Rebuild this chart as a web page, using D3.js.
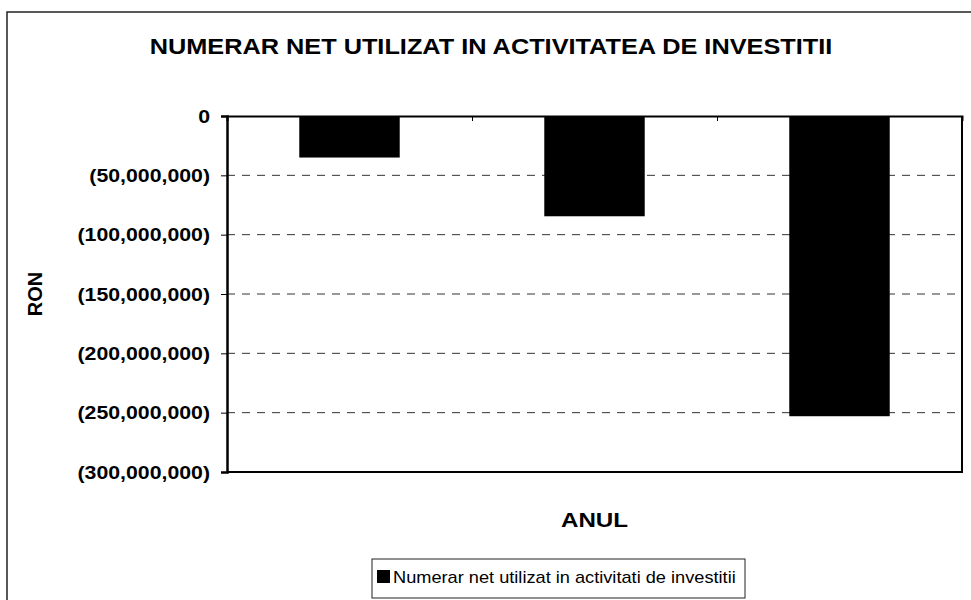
<!DOCTYPE html>
<html>
<head>
<meta charset="utf-8">
<script src="https://cdn.jsdelivr.net/npm/d3@7"></script>
<style>
  body { margin: 0; background: #fff; }
  text { font-family: "Liberation Sans", Arial, sans-serif; }
</style>
</head>
<body>
<svg width="971" height="600"></svg>
<script>
var svg = d3.select("svg");

// Data
var years = ["An 1", "An 2", "An 3"];
var values = [-35000000, -84500000, -253000000];
var yTicks = [0, -50000000, -100000000, -150000000, -200000000, -250000000, -300000000];
var seriesName = "Numerar net utilizat in activitati de investitii";

var plotLeft = 227, plotRight = 962, plotTop = 116, plotBottom = 472;

var x = d3.scaleBand().domain(years).range([plotLeft, plotRight]).paddingInner(0.59).paddingOuter(0.295);
var y = d3.scaleLinear().domain([0, -300000000]).range([plotTop, plotBottom]);

// the scanned chart text is wider than Arial, so stretch it a bit
function stretch(sel, k) {
    sel.each(function() {
        var w = this.getComputedTextLength();
        d3.select(this).attr("textLength", w * k).attr("lengthAdjust", "spacingAndGlyphs");
    });
}

// outer frame (only top and left visible)
svg.append("path")
    .attr("d", "M7,600 V12 H971")
    .attr("fill", "none")
    .attr("stroke", "#222")
    .attr("stroke-width", 1.5);

// title
svg.append("text")
    .attr("x", 491).attr("y", 54)
    .attr("text-anchor", "middle")
    .attr("font-size", 22).attr("font-weight", "bold")
    .text("NUMERAR NET UTILIZAT IN ACTIVITATEA DE INVESTITII")
    .call(stretch, 1.15);

// gridlines
svg.append("g").selectAll("line")
    .data(yTicks.filter(function(d) { return d != 0 && d != -300000000; }))
    .enter().append("line")
    .attr("x1", plotLeft).attr("x2", plotRight)
    .attr("y1", function(d) { return y(d); })
    .attr("y2", function(d) { return y(d); })
    .attr("stroke", "#333")
    .attr("stroke-dasharray", "8,7");

// bars
svg.append("g").selectAll("rect")
    .data(values).enter().append("rect")
    .attr("x", function(d, i) { return x(years[i]); })
    .attr("y", y(0))
    .attr("width", x.bandwidth())
    .attr("height", function(d) { return y(d) - y(0); })
    .attr("fill", "#000");

// plot border (right + bottom)
svg.append("path")
    .attr("d", "M" + plotLeft + "," + plotBottom + " H" + plotRight + " V" + plotTop)
    .attr("fill", "none")
    .attr("stroke", "#000")
    .attr("stroke-width", 2);

// x axis at zero, no labels
var xAxis = svg.append("g")
    .attr("transform", "translate(0," + y(0) + ")")
    .call(d3.axisBottom(d3.scaleLinear().domain([0, 3]).range([plotLeft, plotRight]))
        .tickValues([1, 2]).tickSize(5).tickFormat(""));
xAxis.select(".domain").attr("stroke-width", 2);

// y axis
var yAxis = svg.append("g")
    .attr("transform", "translate(" + plotLeft + ",0)")
    .call(d3.axisLeft(y).tickValues(yTicks).tickSize(6).tickPadding(11)
        .tickFormat(function(d) { return d == 0 ? "0" : "(" + d3.format(",")(-d) + ")"; }));
yAxis.select(".domain").attr("stroke-width", 2.5);
yAxis.selectAll("text")
    .attr("font-size", 19).attr("font-weight", "bold")
    .attr("font-family", "'Liberation Sans', Arial, sans-serif")
    .attr("fill", "#000")
    .call(stretch, 1.12);

// axis titles
svg.append("text")
    .attr("transform", "translate(42," + (plotTop + plotBottom) / 2 + ") rotate(-90)")
    .attr("text-anchor", "middle")
    .attr("font-size", 20).attr("font-weight", "bold")
    .text("RON");

svg.append("text")
    .attr("x", (plotLeft + plotRight) / 2).attr("y", 527)
    .attr("text-anchor", "middle")
    .attr("font-size", 21).attr("font-weight", "bold")
    .text("ANUL")
    .call(stretch, 1.15);

// legend
var legend = svg.append("g").attr("transform", "translate(372,559)");
legend.append("rect")
    .attr("width", 373).attr("height", 39)
    .attr("fill", "#fff").attr("stroke", "#222").attr("stroke-width", 1);
legend.append("rect")
    .attr("x", 5).attr("y", 11).attr("width", 13).attr("height", 13)
    .attr("fill", "#000");
legend.append("text")
    .attr("x", 21).attr("y", 24)
    .attr("font-size", 17)
    .text(seriesName)
    .call(stretch, 1.07);
</script>
</body>
</html>
